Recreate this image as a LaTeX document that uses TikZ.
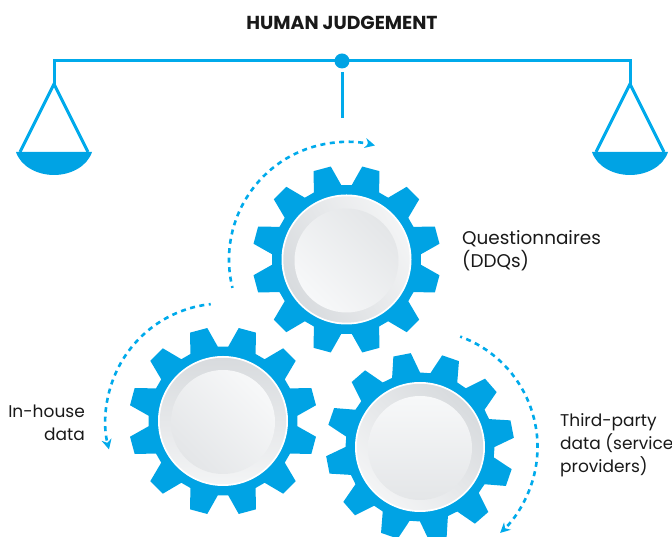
\documentclass[tikz,border=0pt]{standalone}
\usepackage{fontspec}
\setmainfont{Poppins}
\usetikzlibrary{arrows.meta}

\begin{document}
\begin{tikzpicture}[x=1pt,y=1pt,>={Stealth[length=10pt,width=10pt]}]

\def\rout{94.3}
\def\rin{74.5}
\def\rface{65}
\def\rdisc{52}
\def\rturn{117.5}

% Colours
\definecolor{gearcolor}{RGB}{0,163,228}
\definecolor{beamcolor}{RGB}{0,170,235}
\definecolor{rimlight}{RGB}{243,244,245}
\definecolor{rimdark}{RGB}{216,219,222}
\definecolor{disclight}{RGB}{247,248,249}
\definecolor{discdark}{RGB}{228,230,232}

% Styles
\tikzstyle{beam line}=[beamcolor, line width=3pt]
\tikzstyle{turn line}=[beamcolor, line width=2.6pt, dash pattern=on 5pt off 4.5pt, dash phase=3pt, ->]
\tikzstyle{label}=[font=\fontsize{17}{23}\selectfont, text=black!90, inner sep=0pt]

% Gear: x, y, rotation, rim shading, disc shading
\newcommand{\gearwheel}[5]{
	\fill[gearcolor, shift={(#1,#2)}, rotate=#3] (4:\rin)
		\foreach \t in {15,45,...,345}{
			-- (\t-11:\rin) -- (\t-5.4:\rout) -- (\t+5.4:\rout) -- (\t+11:\rin)
		} -- cycle;
	\fill[white] (#1,#2) circle (\rface);
	\shade[top color=rimlight, bottom color=rimdark, shading angle=#4] (#1,#2) circle (\rface-1.8);
	\shade[top color=disclight, bottom color=discdark, shading angle=#5] (#1,#2-1) circle (\rdisc);
}

\useasboundingbox (0,0) rectangle (672,537);

% Title
\node[label, font=\fontsize{18.8}{23}\selectfont\bfseries] (title) at (342,514.5) {HUMAN JUDGEMENT};

% Beam
\coordinate (L) at (54,476);
\coordinate (R) at (630,476);
\coordinate (C) at (342,476);
\draw[beam line] (54,453) -- (L) -- (R) -- (630,453);
\draw[beam line] (342,465) -- (342,419);
\fill[gearcolor] (C) circle (7.5);

% Pans
\foreach \px in {54,630}{
	\draw[beam line, line join=miter] (\px-34,385) -- (\px,453) -- (\px+34,385);
	\fill[gearcolor] (\px-38,385) -- (\px+38,385) .. controls (\px+33,370) and (\px+16,362) .. (\px,362)
		.. controls (\px-16,362) and (\px-33,370) .. (\px-38,385) -- cycle;
}

% Gears
\gearwheel{346.5}{277.5}{0}{-60}{135}
\gearwheel{223}{116}{0}{180}{-45}
\gearwheel{420}{90}{-4}{135}{0}

% Turning arrows
\draw[turn line] (346.5,277.5)++(194:\rturn) arc(194:76:\rturn);
\draw[turn line] (223,116)++(96:\rturn) arc(96:194:\rturn);
\draw[turn line] (420,90)++(70:\rturn) arc(70:-47:\rturn);

% Labels
\node[label, font=\fontsize{18.4}{23}\selectfont, anchor=north west, align=left] (ddq) at (462,307) {Questionnaires\\(DDQs)};
\node[label, anchor=north east, align=right] (inhouse) at (85,132.5) {In-house\\data};
\node[label, anchor=north west, align=left] (third) at (560,123.5) {Third-party\\data (service\\providers)};

\end{tikzpicture}
\end{document}
